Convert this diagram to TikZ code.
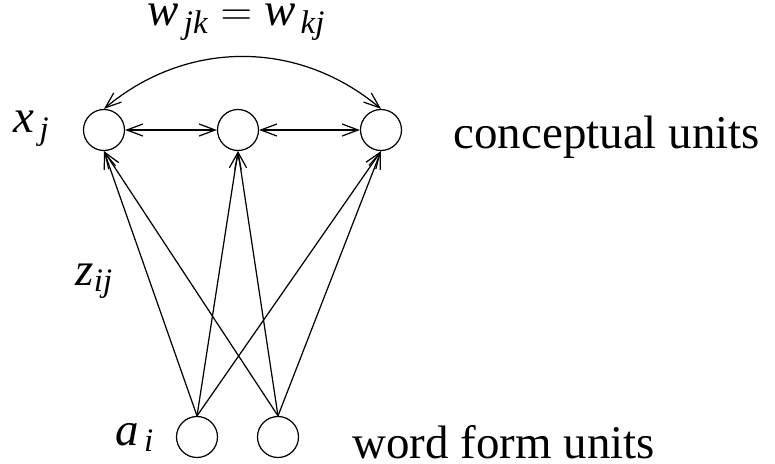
\documentclass[tikz,border=0pt]{standalone}
\usepackage{amsmath}
\usepackage{fontspec}
\setmainfont{Liberation Serif}[ItalicFont={Liberation Serif Italic}]
\usepackage{tikz}
\usetikzlibrary{arrows.meta, positioning}

\begin{document}
\begin{tikzpicture}[>={Straight Barb[length=0.32cm, width=0.24cm]}, line width=0.7pt,
    unit/.style={circle, draw, minimum size=0.82cm, inner sep=0pt},
    lbl/.style={anchor=base west, inner sep=0pt, font=\fontsize{26.7}{32}\selectfont}]
    \useasboundingbox (0,0) rectangle (15.5,9.26);

    % conceptual units
    \node[unit] (c1) at (2.08, 6.66) {};
    \node[unit] (c2) at (4.76, 6.66) {};
    \node[unit] (c3) at (7.62, 6.66) {};
    % word form units
    \node[unit] (f1) at (3.94, 0.52) {};
    \node[unit] (f2) at (5.56, 0.52) {};

    \draw[<->] (c1) -- (c2);
    \draw[<->] (c2) -- (c3);
    \draw[<->] (c1.north) to[bend left=40] (c3.north);
    \foreach \f in {f1, f2} { \foreach \c in {c1, c2, c3} { \draw[->] (\f.north) -- (\c.south); } }

    \node[lbl] (wjk) at (2.94, 8.74) {$\textit{w}_{\,\textit{jk}} = \textit{w}_{\,\textit{kj}}$};
    \node[lbl] (xj) at (0.26, 6.6) {$\textit{x}_{\,\textit{j}}$};
    \node[lbl] (zij) at (1.5, 3.56) {$\textit{z}_{\textit{ij}}$};
    \node[lbl] (ai) at (2.3, 0.36) {$\textit{a}_{\,\textit{i}}$};
    \node[lbl] (conc) at (9.06, 6.28) {conceptual units};
    \node[lbl] (word) at (7.04, 0.1) {word form units};
\end{tikzpicture}
\end{document}
